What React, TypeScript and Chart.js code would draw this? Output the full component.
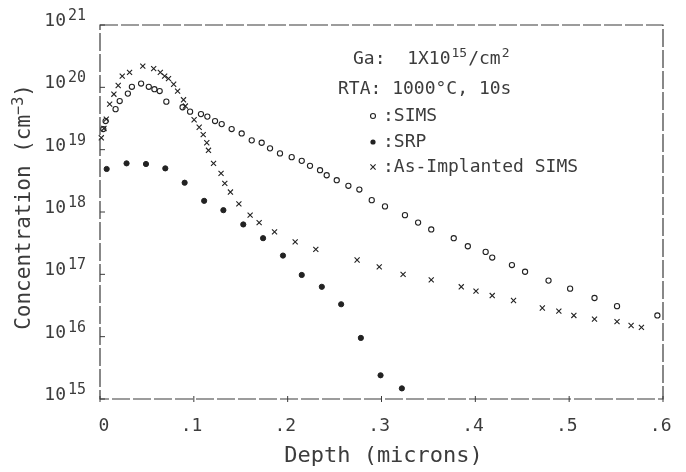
import React, { useEffect, useRef } from "react";
import { Chart, registerables } from "chart.js";

Chart.register(...registerables);

// ---- data ----
const simsDepth = [
  0.0035, 0.006, 0.0166, 0.021, 0.0297, 0.034, 0.0438, 0.052, 0.058, 0.0636,
  0.0707, 0.088, 0.096, 0.1076, 0.1144, 0.1226, 0.1297, 0.1403, 0.151, 0.1617,
  0.1723, 0.1812, 0.1918, 0.2043, 0.215, 0.2238, 0.2345, 0.2416, 0.2523, 0.2647,
  0.2764, 0.2896, 0.3037, 0.325, 0.339, 0.353, 0.377, 0.392, 0.411, 0.418,
  0.439, 0.453, 0.478, 0.501, 0.527, 0.551, 0.594,
];
const simsConc = [
  2.14e19, 2.88e19, 4.47e19, 6.03e19, 7.94e19, 1.02e20, 1.15e20, 1.02e20, 9.33e19, 8.71e19,
  5.89e19, 4.79e19, 4.07e19, 3.72e19, 3.39e19, 2.88e19, 2.57e19, 2.14e19, 1.82e19, 1.41e19,
  1.29e19, 1.05e19, 8.71e18, 7.59e18, 6.61e18, 5.5e18, 4.68e18, 3.89e18, 3.24e18, 2.63e18,
  2.29e18, 1.55e18, 1.23e18, 8.9e17, 6.76e17, 5.25e17, 3.8e17, 2.82e17, 2.29e17, 1.86e17,
  1.41e17, 1.1e17, 7.94e16, 5.89e16, 4.17e16, 3.09e16, 2.19e16,
];

const srpDepth = [
  0.0071, 0.0283, 0.049, 0.0696, 0.0902, 0.111, 0.1315, 0.1527, 0.1738, 0.195,
  0.215, 0.2364, 0.257, 0.278, 0.299, 0.3217,
];
const srpConc = [
  4.9e18, 6.03e18, 5.89e18, 5.01e18, 2.95e18, 1.51e18, 1.07e18, 6.31e17, 3.8e17, 2.0e17,
  9.77e16, 6.31e16, 3.31e16, 9.55e15, 2.4e15, 1.48e15,
];

const asImplDepth = [
  0.0014, 0.0042, 0.0067, 0.0103, 0.0148, 0.0194, 0.0237, 0.0315, 0.0456, 0.0572,
  0.0643, 0.0689, 0.073, 0.0785, 0.0827, 0.089, 0.091, 0.1003, 0.1057, 0.11,
  0.1138, 0.1156, 0.121, 0.129, 0.133, 0.139, 0.148, 0.16, 0.1696, 0.186,
  0.208, 0.23, 0.274, 0.2976, 0.323, 0.353, 0.385, 0.4007, 0.418, 0.4407,
  0.4714, 0.489, 0.505, 0.527, 0.551, 0.566, 0.577,
];
const asImplConc = [
  1.55e19, 2.19e19, 3.09e19, 5.37e19, 7.76e19, 1.07e20, 1.51e20, 1.74e20, 2.19e20, 2.0e20,
  1.74e20, 1.51e20, 1.38e20, 1.12e20, 8.71e19, 6.31e19, 5.01e19, 3.02e19, 2.29e19, 1.74e19,
  1.29e19, 9.77e18, 6.03e18, 4.17e18, 2.88e18, 2.09e18, 1.35e18, 8.91e17, 6.76e17, 4.79e17,
  3.31e17, 2.51e17, 1.7e17, 1.32e17, 1.0e17, 8.13e16, 6.31e16, 5.37e16, 4.57e16, 3.8e16,
  2.88e16, 2.57e16, 2.19e16, 1.91e16, 1.74e16, 1.51e16, 1.41e16,
];

const xTickValues = [0, 0.1, 0.2, 0.3, 0.4, 0.5, 0.6];
const xTickLabels = ["0", ".1", ".2", ".3", ".4", ".5", ".6"];
const yTickValues = [1e15, 1e16, 1e17, 1e18, 1e19, 1e20, 1e21];
const yTickExponents = ["15", "16", "17", "18", "19", "20", "21"];

const seriesNames = ["SIMS", "SRP", "As-Implanted SIMS"];
const xTitle = "Depth (microns)";
const yTitle = "Concentration (cm";
const yTitleSup = "\u22123";
const noteGa = ["Ga:  1X10", "15", "/cm", "2"];
const noteRta = "RTA: 1000\u00B0C, 10s";

const FONT = '"DejaVu Sans Mono", "Liberation Mono", monospace';
const INK = "#3c3c3c";
const MARK = "#222";

const toPoints = (xs: number[], ys: number[]) => xs.map((x, i) => ({ x, y: ys[i] }));

const decorPlugin = {
  id: "decor",
  afterDraw(chart: any) {
    const { ctx, chartArea } = chart;
    const xs = chart.scales.x;
    const ys = chart.scales.y;
    const { left, right, top, bottom } = chartArea;
    ctx.save();
    // frame
    ctx.strokeStyle = "#3a3a3a";
    ctx.lineWidth = 1.2;
    ctx.setLineDash([18, 3]);
    ctx.strokeRect(left, top, right - left, bottom - top);
    ctx.setLineDash([]);
    // ticks
    ctx.lineWidth = 1;
    yTickValues.forEach((v) => {
      const y = ys.getPixelForValue(v);
      ctx.beginPath();
      ctx.moveTo(left, y);
      ctx.lineTo(left + 5, y);
      ctx.stroke();
    });
    xTickValues.forEach((v) => {
      const x = xs.getPixelForValue(v);
      ctx.beginPath();
      ctx.moveTo(x, bottom - 3);
      ctx.lineTo(x, bottom + 3);
      ctx.stroke();
    });

    ctx.fillStyle = INK;
    // y tick labels 10^n
    yTickValues.forEach((v, i) => {
      const y = ys.getPixelForValue(v);
      ctx.font = `18px ${FONT}`;
      ctx.textAlign = "right";
      ctx.textBaseline = "alphabetic";
      ctx.fillText("10", 66, y + 1);
      ctx.font = `15px ${FONT}`;
      ctx.textAlign = "left";
      ctx.fillText(yTickExponents[i], 68, y - 5);
    });
    // x tick labels
    ctx.font = `18px ${FONT}`;
    ctx.textBaseline = "middle";
    xTickValues.forEach((v, i) => {
      const x = xs.getPixelForValue(v);
      const lbl = xTickLabels[i];
      if (lbl.startsWith(".")) {
        ctx.textAlign = "right";
        ctx.fillText(lbl, x + 8.5, 426);
      } else {
        ctx.textAlign = "center";
        ctx.fillText(lbl, x + 4, 426);
      }
    });
    // x title
    ctx.font = `22px ${FONT}`;
    ctx.textAlign = "center";
    ctx.fillText(xTitle, (left + right) / 2 + 2, 456);

    // y title (rotated)
    ctx.save();
    ctx.translate(25, 207);
    ctx.rotate(-Math.PI / 2);
    ctx.textBaseline = "middle";
    ctx.textAlign = "left";
    ctx.font = `21px ${FONT}`;
    const w1 = ctx.measureText(yTitle).width;
    const w3 = ctx.measureText(")").width;
    ctx.font = `15px ${FONT}`;
    const w2 = ctx.measureText(yTitleSup).width;
    const total = w1 + w2 + w3;
    let sx = -total / 2;
    ctx.font = `21px ${FONT}`;
    ctx.fillText(yTitle, sx, 0);
    sx += w1;
    ctx.font = `15px ${FONT}`;
    ctx.fillText(yTitleSup, sx, -6);
    sx += w2;
    ctx.font = `21px ${FONT}`;
    ctx.fillText(")", sx, 0);
    ctx.restore();

    // annotation: Ga line
    ctx.textBaseline = "alphabetic";
    ctx.textAlign = "left";
    let gx = 353;
    const gy = 64;
    ctx.font = `18px ${FONT}`;
    ctx.fillText(noteGa[0], gx, gy);
    gx += ctx.measureText(noteGa[0]).width + 1;
    ctx.font = `13px ${FONT}`;
    ctx.fillText(noteGa[1], gx, gy - 7);
    gx += ctx.measureText(noteGa[1]).width + 1;
    ctx.font = `18px ${FONT}`;
    ctx.fillText(noteGa[2], gx, gy);
    gx += ctx.measureText(noteGa[2]).width + 1;
    ctx.font = `13px ${FONT}`;
    ctx.fillText(noteGa[3], gx, gy - 7);

    // RTA line
    ctx.font = `18px ${FONT}`;
    ctx.fillText(noteRta, 338, 94);

    // legend
    const legY = [116, 142, 167];
    const mx = 373;
    ctx.strokeStyle = MARK;
    ctx.fillStyle = MARK;
    ctx.lineWidth = 1.1;
    ctx.beginPath();
    ctx.arc(mx, legY[0], 2.5, 0, Math.PI * 2);
    ctx.stroke();
    ctx.beginPath();
    ctx.arc(mx, legY[1], 2.6, 0, Math.PI * 2);
    ctx.fill();
    ctx.beginPath();
    ctx.moveTo(mx - 2.6, legY[2] - 2.6);
    ctx.lineTo(mx + 2.6, legY[2] + 2.6);
    ctx.moveTo(mx + 2.6, legY[2] - 2.6);
    ctx.lineTo(mx - 2.6, legY[2] + 2.6);
    ctx.stroke();
    ctx.fillStyle = INK;
    ctx.font = `18px ${FONT}`;
    ctx.textBaseline = "middle";
    seriesNames.forEach((n, i) => {
      ctx.fillText(":" + n, 383, legY[i]);
    });
    ctx.restore();
  },
};

export default function App() {
  const ref = useRef<HTMLCanvasElement | null>(null);
  useEffect(() => {
    if (!ref.current) return;
    const chart = new Chart(ref.current, {
      type: "scatter",
      data: {
        datasets: [
          {
            label: seriesNames[0],
            data: toPoints(simsDepth, simsConc),
            pointStyle: "circle",
            pointRadius: 2.6,
            borderWidth: 1.1,
            borderColor: MARK,
            backgroundColor: "rgba(255,255,255,0)",
            clip: false,
          } as any,
          {
            label: seriesNames[1],
            data: toPoints(srpDepth, srpConc),
            pointStyle: "circle",
            pointRadius: 2.6,
            borderWidth: 1,
            borderColor: MARK,
            backgroundColor: MARK,
            clip: false,
          } as any,
          {
            label: seriesNames[2],
            data: toPoints(asImplDepth, asImplConc),
            pointStyle: "crossRot",
            pointRadius: 3.6,
            borderWidth: 1.1,
            borderColor: MARK,
            clip: false,
          } as any,
        ],
      },
      options: {
        animation: false,
        responsive: false,
        events: [],
        layout: { padding: { left: 100, top: 25, right: 23, bottom: 73 } },
        plugins: { legend: { display: false }, tooltip: { enabled: false } },
        scales: {
          x: { type: "linear", min: 0, max: 0.6, display: false },
          y: { type: "logarithmic", min: 1e15, max: 1e21, display: false },
        },
      },
      plugins: [decorPlugin],
    });
    return () => chart.destroy();
  }, []);
  return (
    <div style={{ position: "absolute", left: 0, top: 0, width: 686, height: 472, background: "#fff" }}>
      <canvas ref={ref} width={686} height={472} />
    </div>
  );
}
